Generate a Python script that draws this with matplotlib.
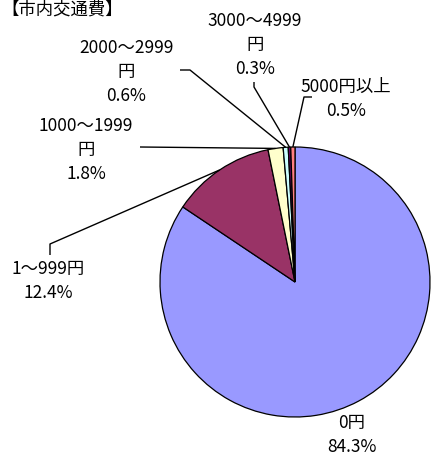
import numpy as np
import matplotlib
matplotlib.use("Agg")
import matplotlib.pyplot as plt

plt.rcParams['font.family'] = ['Noto Sans CJK JP', 'DejaVu Sans']

title = "【市内交通費】"
categories = ["0円", "1～999円", "1000～1999\n円", "2000～2999\n円", "3000～4999\n円", "5000円以上"]
shares = [84.3, 12.4, 1.8, 0.6, 0.3, 0.5]
colors = ["#9999FF", "#993366", "#FFFFCC", "#CCFFFF", "#660066", "#FF8080"]

W, H = 434, 460
fig = plt.figure(figsize=(W / 100, H / 100), dpi=100)
ax = fig.add_axes([0, 0, 1, 1])

cx, cy, r = 295, H - 283, 135
wedges, _ = ax.pie(shares, colors=colors, startangle=90, counterclock=False,
                   center=(cx, cy), radius=r, frame=True,
                   wedgeprops=dict(edgecolor='black', linewidth=0.9))
ax.set_xlim(0, W)
ax.set_ylim(0, H)
ax.set_aspect('equal')
ax.axis('off')


def edge_point(w):
    mid = np.deg2rad((w.theta1 + w.theta2) / 2)
    return cx + r * np.cos(mid), cy + r * np.sin(mid)


fs = 12.5
# label centres (y counted from the top) and leader-line elbows
label_pos = [(352, 435), (48, 281), (86, 150), (126, 72), (255, 45), (346, 99)]
leaders = [None,
           [(50, 256), (50, 245)],
           [(140, 148)],
           [(180, 71), (190, 71)],
           [(254, 83), (254, 88)],
           [(312, 98), (304, 98)]]

for w, cat, val, (lx, ly), lead in zip(wedges, categories, shares, label_pos, leaders):
    ax.text(lx, H - ly, f"{cat}\n{val:.1f}%", ha='center', va='center',
            fontsize=fs, linespacing=1.4, color='black')
    if lead:
        ex, ey = edge_point(w)
        xs = [p[0] for p in lead] + [ex]
        ys = [H - p[1] for p in lead] + [ey]
        ax.plot(xs, ys, color='black', linewidth=1.0, solid_capstyle='butt')

ax.text(1, H - 1, title, ha='left', va='top', fontsize=fs, color='black')

fig.savefig("out.png", dpi=100)
